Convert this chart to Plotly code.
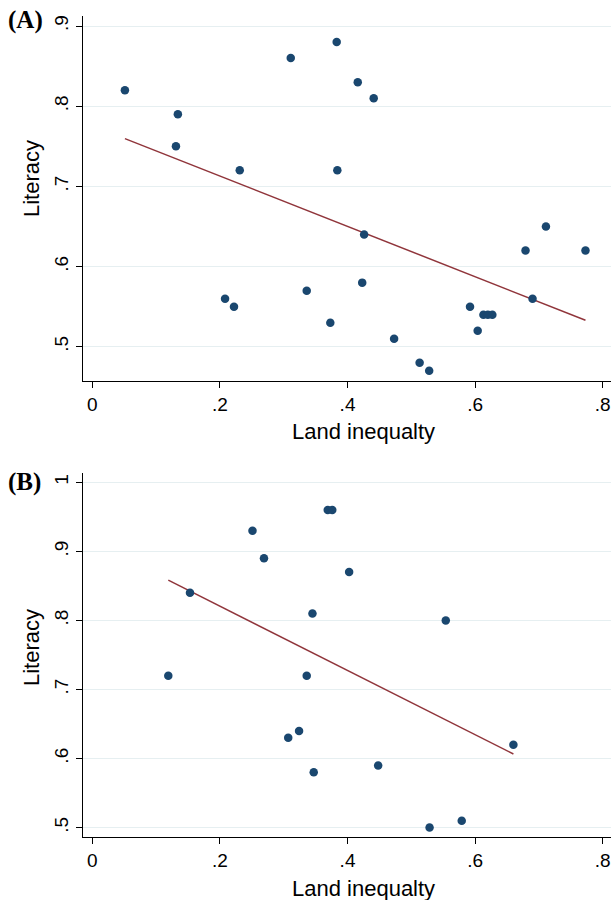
import numpy as np
import plotly.graph_objects as go

# ---- Data ----
land_a = [0.051, 0.134, 0.131, 0.231, 0.311, 0.383, 0.416, 0.441, 0.384,
          0.208, 0.222, 0.336, 0.426, 0.423, 0.373, 0.473, 0.513, 0.528,
          0.592, 0.604, 0.613, 0.620, 0.627, 0.679, 0.711, 0.773, 0.690]
lit_a = [0.82, 0.79, 0.75, 0.72, 0.86, 0.88, 0.83, 0.81, 0.72,
         0.56, 0.55, 0.57, 0.64, 0.58, 0.53, 0.51, 0.48, 0.47,
         0.55, 0.52, 0.54, 0.54, 0.54, 0.62, 0.65, 0.62, 0.56]

land_b = [0.251, 0.269, 0.153, 0.345, 0.119, 0.336, 0.369, 0.376, 0.4025,
          0.554, 0.307, 0.324, 0.347, 0.448, 0.5286, 0.579, 0.660]
lit_b = [0.93, 0.89, 0.84, 0.81, 0.72, 0.72, 0.96, 0.96, 0.87,
         0.80, 0.63, 0.64, 0.58, 0.59, 0.50, 0.51, 0.62]

x_ticks = [0, 0.2, 0.4, 0.6, 0.8]
x_ticklabels = ["0", ".2", ".4", ".6", ".8"]
ya_ticks = [0.5, 0.6, 0.7, 0.8, 0.9]
ya_ticklabels = [".5", ".6", ".7", ".8", ".9"]
yb_ticks = [0.5, 0.6, 0.7, 0.8, 0.9, 1.0]
yb_ticklabels = [".5", ".6", ".7", ".8", ".9", "1"]

panel_labels = ["(A)", "(B)"]
x_title = "Land inequalty"
y_title = "Literacy"

# ---- Styling ----
W, H = 611, 900
ML, MR, MT, MB = 83, 0, 16, 63
PW, PH = W - ML - MR, H - MT - MB
DOT = "#1A476F"
FIT = "#90353B"
GRID = "#E6EFF1"
SANS = "Liberation Sans, Arial, sans-serif"
SERIF = "Liberation Serif, Times New Roman, serif"


def px_x(px):
    return (px - ML) / PW


def px_y(py):
    return (H - MB - py) / PH


def fit_line(x, y):
    b, a = np.polyfit(x, y, 1)
    xs = np.array([min(x), max(x)])
    return xs, a + b * xs


fig = go.Figure()

for (xd, yd, xa, ya) in [(land_a, lit_a, "x", "y"), (land_b, lit_b, "x2", "y2")]:
    fx, fy = fit_line(xd, yd)
    fig.add_trace(go.Scatter(x=fx, y=fy, mode="lines", xaxis=xa, yaxis=ya,
                             line=dict(color=FIT, width=1.5), showlegend=False,
                             hoverinfo="skip"))
    fig.add_trace(go.Scatter(x=xd, y=yd, mode="markers", xaxis=xa, yaxis=ya,
                             marker=dict(color=DOT, size=8.5, line=dict(width=0)),
                             showlegend=False))

common_x = dict(range=[-0.0147, 0.813], tickvals=x_ticks, ticktext=x_ticklabels,
                showgrid=False, zeroline=False, showline=True, linecolor="#000",
                linewidth=1, ticks="outside", ticklen=6, tickcolor="#000",
                tickfont=dict(family=SANS, size=19, color="#000"))
common_y = dict(showgrid=True, gridcolor=GRID, gridwidth=1.2, zeroline=False,
                showline=True, linecolor="#000", linewidth=1, ticks="outside",
                ticklen=6, tickcolor="#000", tickangle=-90,
                tickfont=dict(family=SANS, size=19, color="#000"))

# panel A domain: y from 380.7 (bottom) to 16 (top); panel B: 836.7 to 472.7
fig.update_layout(
    width=W, height=H, margin=dict(l=ML, r=MR, t=MT, b=MB),
    paper_bgcolor="white", plot_bgcolor="white",
    xaxis=dict(domain=[0, 1], anchor="y", **common_x),
    yaxis=dict(domain=[px_y(380.7), 1], anchor="x", range=[0.4577, 0.9125],
               tickvals=ya_ticks, ticktext=ya_ticklabels, **common_y),
    xaxis2=dict(domain=[0, 1], anchor="y2", **common_x),
    yaxis2=dict(domain=[0, px_y(472.7)], anchor="x2", range=[0.4864, 1.0139],
                tickvals=yb_ticks, ticktext=yb_ticklabels, **common_y),
)

annotations = []
# x titles
for py in [432, 888]:
    annotations.append(dict(text=x_title, xref="paper", yref="paper",
                            x=px_x(363), y=px_y(py), xanchor="center", yanchor="middle",
                            showarrow=False, font=dict(family=SANS, size=22, color="#000")))
# y titles
for py in [179, 648]:
    annotations.append(dict(text=y_title, xref="paper", yref="paper",
                            x=px_x(31), y=px_y(py), xanchor="center", yanchor="middle",
                            textangle=-90, showarrow=False,
                            font=dict(family=SANS, size=22, color="#000")))
# panel labels
for lab, py in zip(panel_labels, [20, 482]):
    annotations.append(dict(text="<b>" + lab + "</b>", xref="paper", yref="paper",
                            x=px_x(6), y=px_y(py), xanchor="left", yanchor="middle",
                            showarrow=False, font=dict(family=SERIF, size=25, color="#000")))
fig.update_layout(annotations=annotations)

fig.write_html("out.html", config={"displayModeBar": False},
               post_script="document.body.style.margin='0';document.body.style.padding='0';")
